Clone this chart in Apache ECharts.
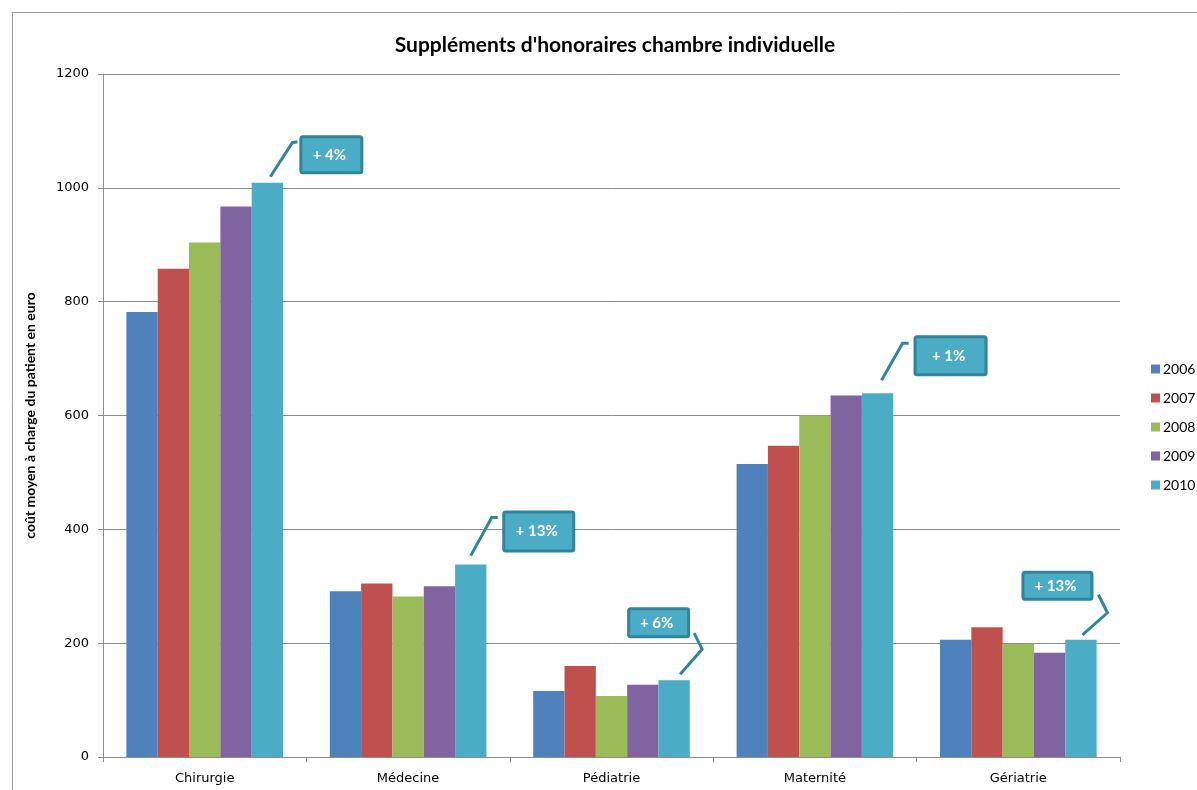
<!DOCTYPE html>
<html>
<head>
<meta charset="utf-8">
<script src="https://cdn.jsdelivr.net/npm/echarts@6/dist/echarts.min.js"></script>
<style>
  html, body { margin: 0; padding: 0; background: #ffffff; }
  #chart { width: 1197px; height: 790px; }
</style>
</head>
<body>
<div id="chart"></div>
<script>
// Services and years
const categories = ['Chirurgie', 'Médecine', 'Pédiatrie', 'Maternité', 'Gériatrie'];
const years = ['2006', '2007', '2008', '2009', '2010'];

// Average out-of-pocket cost per patient (euro), one array per year
const values2006 = [782, 291, 116, 515, 206];
const values2007 = [858, 305, 160, 547, 228];
const values2008 = [904, 282, 107, 600, 199];
const values2009 = [967, 300, 127, 635, 183];
const values2010 = [1009, 338, 135, 639, 206];

// Change 2009 -> 2010, shown in the callouts
const changeLabels = ['+ 4%', '+ 13%', '+ 6%', '+ 1%', '+ 13%'];

// Y axis ticks
const yTicks = [0, 200, 400, 600, 800, 1000, 1200];

const yearColors = ['#4F81BD', '#C0504D', '#9BBB59', '#8064A2', '#4BACC6'];
const calloutFill = '#4BACC6';
const calloutStroke = '#31849B';
const CATEGORY_GAP = 0.23;

// Callout geometry, in pixels relative to the top centre of the 2010 bar
const calloutLayout = [
  { cx: 64,    cy: -28,   w: 64, h: 39, line: [[3, -6], [25, -40], [30, -41]] },
  { cx: 68,    cy: -33,   w: 73, h: 42, line: [[0, -9], [21, -47], [27, -47]] },
  { cx: -15.5, cy: -57.5, w: 63, h: 31, line: [[6, -6], [28, -31], [20, -47]] },
  { cx: 73,    cy: -37.5, w: 74, h: 41, line: [[4, -13], [25, -50], [31, -50]] },
  { cx: -23.5, cy: -54,   w: 72, h: 30, line: [[1.5, -5], [26.5, -27], [17.5, -45]] }
];

const yearValues = [values2006, values2007, values2008, values2009, values2010];

const barSeries = years.map((y, k) => ({
  name: y,
  type: 'bar',
  data: yearValues[k],
  barGap: '0%',
  barCategoryGap: (CATEGORY_GAP * 100) + '%',
  itemStyle: { color: yearColors[k] },
  emphasis: { disabled: true }
}));

const calloutSeries = {
  type: 'custom',
  name: 'callouts',
  z: 10,
  silent: true,
  clip: false,
  data: categories.map((c, i) => [i, values2010[i], changeLabels[i]]),
  renderItem: function (params, api) {
    const i = api.value(0);
    const top = api.coord([i, api.value(1)]);
    const band = api.size([1, 0])[0];
    const barW = band * (1 - CATEGORY_GAP) / years.length;
    const x0 = top[0] + 2 * barW;
    const y0 = top[1];
    const c = calloutLayout[i];
    const lw = 3;
    return {
      type: 'group',
      children: [
        {
          type: 'polyline',
          shape: { points: c.line.map(p => [x0 + p[0], y0 + p[1]]) },
          style: { stroke: calloutStroke, lineWidth: 3, fill: null }
        },
        {
          type: 'rect',
          shape: {
            x: x0 + c.cx - c.w / 2 + lw / 2,
            y: y0 + c.cy - c.h / 2 + lw / 2,
            width: c.w - lw,
            height: c.h - lw,
            r: 2
          },
          style: { fill: calloutFill, stroke: calloutStroke, lineWidth: lw }
        },
        {
          type: 'text',
          x: x0 + c.cx - 2,
          y: y0 + c.cy,
          style: {
            text: api.value(2),
            fill: '#ffffff',
            font: 'bold 15px Lato, "Open Sans", sans-serif',
            align: 'center',
            verticalAlign: 'middle'
          }
        }
      ]
    };
  }
};

const chart = echarts.init(document.getElementById('chart'), null, { renderer: 'canvas' });

chart.setOption({
  animation: false,
  backgroundColor: '#ffffff',
  title: {
    text: "Suppléments d'honoraires chambre individuelle",
    left: 610,
    textAlign: 'center',
    top: 30,
    textStyle: {
      fontFamily: 'Lato, "Open Sans", sans-serif',
      fontWeight: 'bold',
      fontSize: 21,
      color: '#000000'
    }
  },
  graphic: [
    {
      type: 'rect',
      shape: { x: 12.5, y: 12.5, width: 1300, height: 900 },
      style: { fill: null, stroke: '#9a9a9a', lineWidth: 1 },
      z: -1,
      silent: true
    }
  ],
  legend: {
    data: years,
    orient: 'vertical',
    left: 1146,
    top: 357,
    itemWidth: 9,
    itemHeight: 9,
    itemGap: 15,
    icon: 'rect',
    textStyle: {
      fontFamily: 'Lato, "Open Sans", sans-serif',
      fontSize: 14,
      color: '#000000',
      padding: [0, 0, 0, -2]
    },
    selectedMode: false
  },
  grid: {
    left: 103,
    right: 77,
    top: 74,
    bottom: 33,
    containLabel: false
  },
  xAxis: {
    type: 'category',
    data: categories,
    axisLine: { show: true, lineStyle: { color: '#8c8c8c', width: 1 } },
    axisTick: { show: true, length: 5, lineStyle: { color: '#8c8c8c' } },
    axisLabel: {
      fontFamily: '"DejaVu Sans", sans-serif',
      fontSize: 13,
      color: '#000000',
      margin: 15
    }
  },
  yAxis: {
    type: 'value',
    min: yTicks[0],
    max: yTicks[yTicks.length - 1],
    interval: yTicks[1] - yTicks[0],
    name: 'coût moyen à charge du patient en euro',
    nameLocation: 'middle',
    nameGap: 66,
    nameRotate: 90,
    nameTextStyle: {
      fontFamily: 'Lato, "Open Sans", sans-serif',
      fontWeight: 'bold',
      fontSize: 14,
      color: '#000000'
    },
    axisLine: { show: true, lineStyle: { color: '#8c8c8c', width: 1 } },
    axisTick: { show: true, length: 5, inside: false, lineStyle: { color: '#8c8c8c' } },
    axisLabel: {
      fontFamily: '"DejaVu Sans", sans-serif',
      fontSize: 13,
      color: '#000000',
      margin: 14,
      formatter: v => String(v)
    },
    splitLine: { show: true, lineStyle: { color: '#8c8c8c', width: 1 } }
  },
  series: barSeries.concat([calloutSeries])
});
</script>
</body>
</html>
